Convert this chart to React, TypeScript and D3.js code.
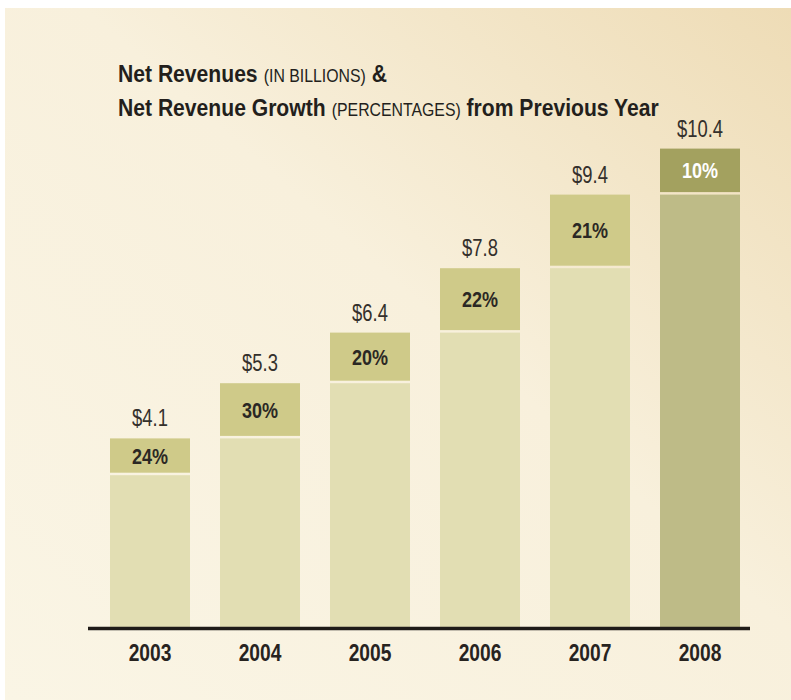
import React from "react";
import * as d3 from "d3";

const years = ["2003", "2004", "2005", "2006", "2007", "2008"];
const revenue = [4.1, 5.3, 6.4, 7.8, 9.4, 10.4];
const previousRevenue = [3.3, 4.1, 5.3, 6.4, 7.8, 9.4];
const growth = [24, 30, 20, 22, 21, 10];
const revenueLabels = ["$4.1", "$5.3", "$6.4", "$7.8", "$9.4", "$10.4"];

const W = 791;
const H = 700;
const FONT = "'Liberation Sans', Arial, sans-serif";

function NText(props: {
  x: number;
  y: number;
  sx: number;
  anchor?: string;
  size: number;
  weight?: string;
  fill: string;
  children: React.ReactNode;
}) {
  return (
    <text
      transform={`translate(${props.x},${props.y}) scale(${props.sx},1)`}
      textAnchor={props.anchor || "start"}
      fontFamily={FONT}
      fontSize={props.size}
      fontWeight={props.weight || "normal"}
      fill={props.fill}
    >
      {props.children}
    </text>
  );
}

export default function App() {
  const x = d3
    .scaleBand<string>()
    .domain(years)
    .range([95, 755])
    .paddingInner(30 / 110)
    .paddingOuter(15 / 110);
  const baseY = 627;
  const y = d3.scaleLinear().domain([0, 11]).range([baseY, baseY - 11 * 46]);
  const gap = 2.5;
  const last = years.length - 1;

  return (
    <svg
      width={W}
      height={H}
      style={{ position: "absolute", left: 0, top: 0 }}
      xmlns="http://www.w3.org/2000/svg"
    >
      <defs>
        <linearGradient id="bg" x1="0" y1="1" x2="1" y2="0">
          <stop offset="0%" stopColor="#faf5e5" />
          <stop offset="55%" stopColor="#f8f0dc" />
          <stop offset="100%" stopColor="#eedcb6" />
        </linearGradient>
      </defs>
      <rect x={0} y={0} width={W} height={H} fill="#ffffff" />
      <rect x={5} y={8} width={W - 5} height={H - 8} fill="url(#bg)" />

      <NText x={118} y={82} sx={0.88} size={24} weight="bold" fill="#231f1c">
        Net Revenues
        <tspan fontSize={18} fontWeight="normal" dx={2}> (IN BILLIONS)</tspan>
        <tspan> &amp;</tspan>
      </NText>
      <NText x={118} y={116} sx={0.88} size={24} weight="bold" fill="#231f1c">
        Net Revenue Growth
        <tspan fontSize={18} fontWeight="normal" dx={2}> (PERCENTAGES)</tspan>
        <tspan> from Previous Year</tspan>
      </NText>

      {years.map((yr, i) => {
        const bx = x(yr) as number;
        const bw = x.bandwidth();
        const cx = bx + bw / 2;
        const isLast = i === last;
        const topY = y(revenue[i]);
        const prevY = y(previousRevenue[i]);
        const upperColor = isLast ? "#a3a15f" : "#cfca89";
        const lowerColor = isLast ? "#bebb87" : "#e2deb3";
        const midUpper = (topY + prevY - gap) / 2;
        return (
          <g key={yr}>
            <rect x={bx} y={prevY} width={bw} height={baseY - prevY} fill={lowerColor} />
            <rect x={bx} y={topY} width={bw} height={prevY - gap - topY} fill={upperColor} />
            <NText
              x={cx}
              y={midUpper + 8}
              sx={0.8}
              anchor="middle"
              size={22.5}
              weight="bold"
              fill={isLast ? "#ffffff" : "#2b2824"}
            >
              {growth[i]}%
            </NText>
            <NText x={cx} y={topY - 12} sx={0.8} anchor="middle" size={23} fill="#34302c">
              {revenueLabels[i]}
            </NText>
            <NText x={cx} y={661} sx={0.8} anchor="middle" size={24} weight="bold" fill="#27231f">
              {yr}
            </NText>
          </g>
        );
      })}

      <line x1={88} x2={750} y1={baseY + 1.5} y2={baseY + 1.5} stroke="#1f1b18" strokeWidth={3.5} />
    </svg>
  );
}
